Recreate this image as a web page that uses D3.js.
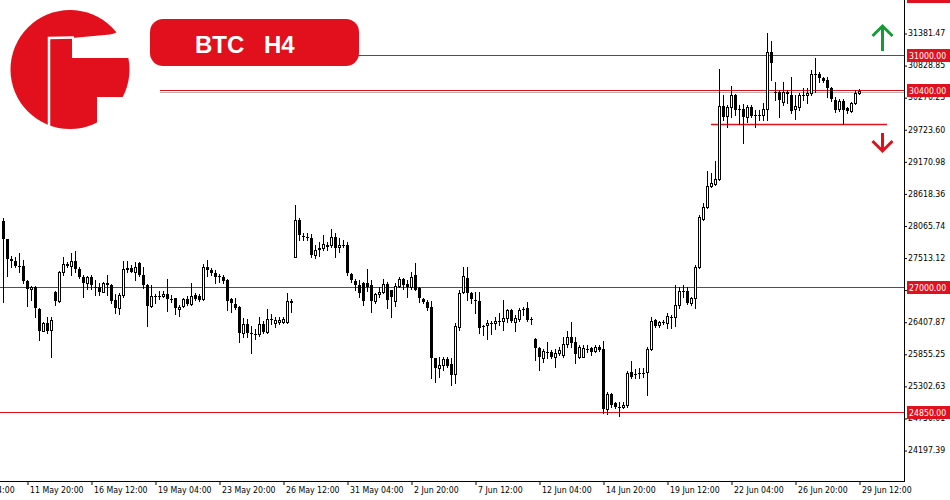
<!DOCTYPE html>
<html>
<head>
<meta charset="utf-8">
<script src="https://cdn.jsdelivr.net/npm/d3@7"></script>
<style>
  body { margin: 0; background: #fff; }
  svg { display: block; }
  .ax text { font-family: "DejaVu Sans Condensed", "DejaVu Sans", sans-serif; font-stretch: condensed; }
</style>
</head>
<body>
<div id="chart"></div>
<script>
// BTC H4 candles, 10 May 20:00 .. 29 Jun 12:00 (weekends skipped)
const opens = [
  28148,27828,27494,27454,27376,27368,27104,26966,27011,26632,
  26253,26391,26265,26920,26770,27265,27402,27368,27449,27311,
  27173,27080,27184,27006,27001,26925,27080,27041,26782,26639,
  26868,27328,27339,27270,27425,27213,27041,26679,26851,26851,
  26851,26886,26799,26812,26622,26679,26805,26708,26868,26851,
  26794,27345,27299,27252,27196,27173,27127,26794,26713,26667,
  26209,26369,26214,26202,26196,26369,26236,26450,26391,26408,
  26408,26408,26770,27528,28160,27890,27873,27845,27557,27666,
  27673,27730,27730,27862,27690,27730,27730,27230,27115,27041,
  27070,27070,27041,26770,26886,26925,27053,26955,26770,27028,
  27139,27053,27011,27213,26994,26794,26753,26656,25778,25606,
  25662,25766,25680,25502,26322,26925,27156,26898,26777,26770,
  26334,26352,26391,26381,26426,26426,26467,26610,26408,26450,
  26622,26639,26450,26105,25950,25778,25892,25892,25805,25864,
  25835,26024,26150,26064,25805,25805,25938,25950,25904,25978,
  25933,24899,25163,25003,24944,24934,24974,25547,25508,25520,
  25530,25547,25933,26438,26352,26408,26391,26495,26484,26696,
  26942,26942,26725,26812,27356,28172,28379,28751,28780,28861,
  30124,29952,30102,30313,30067,30067,29929,30102,29969,29969,
  29969,30067,31049,30370,30370,30198,30370,30313,30067,30112,
  30313,30308,30353,30675,30675,30601,30572,30429,30227,30067,
  30215,30084,30043,30181,30343
];
const closes = [
  27828,27483,27459,27368,27368,27104,26966,27001,26639,26253,
  26381,26253,26438,26770,27265,27402,27368,27449,27321,27173,
  27080,27173,27041,27001,26925,27080,27041,26770,26639,26868,
  27311,27333,27270,27356,27213,27041,26679,26851,26846,26846,
  26886,26799,26794,26639,26667,26794,26708,26851,26794,26782,
  27345,27299,27252,27184,27173,27115,26770,26725,26639,26209,
  26369,26209,26209,26196,26369,26236,26450,26443,26438,26438,
  26450,26760,26725,28160,27902,27885,27845,27557,27643,27673,
  27747,27735,27873,27673,27730,27725,27242,27127,27041,26898,
  26770,27011,26770,26886,26925,27053,26782,26829,27028,27139,
  27041,27011,27173,26955,26812,26743,26639,25778,25606,25662,
  25766,25650,25490,26334,26898,27196,26898,26794,26770,26295,
  26312,26391,26391,26426,26426,26467,26610,26426,26467,26610,
  26622,26438,26450,25950,25795,25909,25892,25805,25874,25921,
  26024,26150,26046,25847,25978,25950,25938,25892,25978,25921,
  24899,25163,24974,24944,24944,24974,25530,25451,25508,25520,
  25530,25933,26426,26334,26408,26408,26507,26495,26696,26942,
  26942,26725,26812,27345,28212,28379,28746,28792,28861,30124,
  29940,30102,30313,30055,30067,29929,30102,29952,29969,29969,
  30067,31049,30870,30343,30227,30370,30331,30043,30124,30313,
  30313,30353,30675,30675,30601,30560,30429,30240,30055,30215,
  30055,30043,30171,30353,30388
];
const highs = [
  28195,27833,27540,27518,27587,27471,27127,27023,27023,26644,
  26403,26484,26484,26937,27282,27528,27437,27587,27631,27356,
  27213,27196,27208,27127,27070,27097,27213,27050,26880,26903,
  27449,27449,27385,27442,27437,27356,27050,27041,26880,26942,
  26942,27139,26868,26817,26691,26812,26851,27070,26898,26886,
  27402,27471,27328,27299,27230,27213,27139,26812,26812,26679,
  26467,26450,26334,26277,26484,26426,26622,26541,26495,26484,
  26495,26898,26805,28419,28190,27931,27931,27919,27730,27787,
  27902,27787,28000,27942,27845,27816,27787,27242,27139,27127,
  27097,27311,27127,26908,27011,27139,27097,26960,27070,27173,
  27156,27127,27270,27414,27011,26812,26782,26770,25778,25805,
  25805,25805,25778,26381,26955,27356,27356,26925,26925,26925,
  26352,26438,26426,26495,26553,26782,26622,26622,26524,26639,
  26656,26753,26484,26122,25967,25933,26064,25921,25933,25978,
  26150,26253,26408,26150,26007,26007,26007,25978,26007,26007,
  26081,25203,25175,25030,25030,25030,25564,25737,25588,25606,
  25606,25978,26495,26450,26426,26438,26553,26524,27041,27011,
  27041,27011,26839,27385,28246,28458,29010,28965,29182,30756,
  30313,30141,30469,30331,30141,30158,30141,30141,30055,30055,
  30181,31376,31249,30543,30400,30543,30400,30618,30313,30343,
  30429,30429,30744,30946,30715,30629,30629,30457,30284,30240,
  30240,30102,30198,30400,30412
];
const lows = [
  26753,27196,27351,27345,27270,27075,26679,26782,26495,26093,
  26248,26219,25795,26696,26748,27213,27351,27213,27270,27161,
  26829,26966,26966,26868,26868,26920,26868,26730,26553,26536,
  26839,27270,27265,27127,27196,26984,26334,26670,26725,26794,
  26834,26598,26753,26536,26507,26667,26696,26696,26782,26770,
  26782,27196,27213,27080,27097,27080,26610,26581,26630,26064,
  26150,26150,25864,26105,26162,26219,26219,26369,26322,26369,
  26381,26391,26581,27520,27816,27816,27816,27528,27500,27540,
  27643,27643,27700,27528,27614,27690,27213,27097,26955,26839,
  26696,26942,26581,26736,26839,26898,26639,26484,26679,27011,
  26966,26839,26966,26950,26753,26725,26610,25433,25375,25461,
  25576,25633,25318,25358,26265,26898,26782,26725,26553,26219,
  26179,26105,26196,26277,26352,26265,26408,26408,26253,26426,
  26524,26426,26369,25749,25576,25719,25778,25778,25633,25835,
  25805,25978,25978,25692,25778,25795,25886,25835,25892,25909,
  24830,24818,24944,24917,24784,24917,24944,25433,25433,25433,
  25461,25146,25921,26322,26322,26369,26295,26295,26334,26639,
  26839,26713,26696,26639,27333,28160,28362,28734,28763,28849,
  29883,29767,29940,29969,29814,29492,29854,29929,29767,29883,
  29883,29883,30572,30227,29940,30141,30171,30009,29895,30055,
  30227,30171,30313,30370,30543,30543,30284,30215,30026,30043,
  29814,30009,30026,30158,30331
];

// time axis labels (bar index of each tick)
const xTickIndex = [-10, 6, 22, 38, 54, 70, 86, 102, 118, 134, 150, 166, 182, 198, 214];
const xTickLabels = ["9 May 04:00", "11 May 20:00", "16 May 12:00", "19 May 04:00", "23 May 20:00",
  "26 May 12:00", "31 May 04:00", "2 Jun 20:00", "7 Jun 12:00", "12 Jun 04:00", "14 Jun 20:00",
  "19 Jun 12:00", "22 Jun 04:00", "26 Jun 20:00", "29 Jun 12:00"];

// price axis
const yTicks = [24197.39, 24750.01, 25302.63, 25855.25, 26407.87, 26960.49, 27513.12,
  28065.74, 28618.36, 29170.98, 29723.60, 30276.23, 30828.85, 31381.47];

// marked levels
const levels = [31000, 30400, 27000, 24850];
const levelStart = [160, 160, 0, 0];
const rangeLow = 29810;   // short red line under the range
const rangeFrom = 177, rangeTo = 221;

const W = 950, H = 500;
const plotW = 904, plotH = 481;
const red = "#e2101c";

const svg = d3.select("#chart").append("svg")
    .attr("width", W)
    .attr("height", H);

const x = d3.scaleLinear().domain([0, 225]).range([3, 903]);
const y = d3.scaleLinear().domain([23664, 31950]).range([plotH, 0]);

const px = v => Math.round(v);

// level lines (under candles)
svg.selectAll(".level")
    .data(levels)
    .enter()
    .append("line")
    .attr("x1", (d, i) => levelStart[i])
    .attr("x2", plotW)
    .attr("y1", d => px(y(d)) + 0.5)
    .attr("y2", d => px(y(d)) + 0.5)
    .style("stroke", red)
    .style("stroke-width", 1);

// grey bid line just under 30400
svg.append("line")
    .attr("x1", 160).attr("x2", plotW)
    .attr("y1", px(y(30400)) + 2.5).attr("y2", px(y(30400)) + 2.5)
    .style("stroke", "#b4b4b4");

svg.append("line")
    .attr("x1", x(rangeFrom)).attr("x2", x(rangeTo))
    .attr("y1", px(y(rangeLow)) + 0.5).attr("y2", px(y(rangeLow)) + 0.5)
    .style("stroke", red)
    .style("stroke-width", 1.3);

// candles
const idx = d3.range(opens.length);
const candles = svg.append("g");
const up = i => closes[i] > opens[i];

candles.selectAll(".wick")
    .data(idx)
    .enter()
    .append("line")
    .attr("x1", i => px(x(i)) + 0.5)
    .attr("x2", i => px(x(i)) + 0.5)
    .attr("y1", i => px(y(highs[i])))
    .attr("y2", i => px(y(lows[i])) + 1)
    .style("stroke", "#000")
    .style("stroke-width", 1);

candles.selectAll(".body")
    .data(idx)
    .enter()
    .append("rect")
    .attr("x", i => up(i) ? px(x(i)) - 0.5 : px(x(i)) - 1)
    .attr("width", i => up(i) ? 2 : 3)
    .attr("y", i => {
        const t = px(y(Math.max(opens[i], closes[i])));
        return up(i) ? t + 0.5 : t;
    })
    .attr("height", i => {
        const t = px(y(Math.max(opens[i], closes[i])));
        const b = px(y(Math.min(opens[i], closes[i])));
        return Math.max(b - t, 1);
    })
    .style("fill", i => up(i) ? "#fff" : "#000")
    .style("stroke", i => up(i) ? "#000" : "none")
    .style("stroke-width", 1);

// axes frame
svg.append("line")
    .attr("x1", plotW + 0.5).attr("x2", plotW + 0.5)
    .attr("y1", 0).attr("y2", plotH + 1)
    .style("stroke", "#000");
svg.append("line")
    .attr("x1", 0).attr("x2", plotW + 1)
    .attr("y1", plotH + 0.5).attr("y2", plotH + 0.5)
    .style("stroke", "#000");

// price axis
const yAxis = svg.append("g")
    .attr("class", "ax")
    .attr("transform", `translate(${plotW},0)`)
    .call(d3.axisRight(y)
        .tickValues(yTicks)
        .tickSize(3)
        .tickPadding(1)
        .tickFormat(d3.format(".2f")));
yAxis.select(".domain").remove();
yAxis.selectAll("text")
    .style("font-size", "8.7px")
    .style("fill", "#000");
yAxis.selectAll(".tick line").attr("transform", "translate(0,0.5)");

// time axis
const xAxis = svg.append("g")
    .attr("class", "ax")
    .attr("transform", `translate(0,${plotH})`)
    .call(d3.axisBottom(x)
        .tickValues(xTickIndex)
        .tickSize(4)
        .tickFormat((d, i) => xTickLabels[i]));
xAxis.select(".domain").remove();
xAxis.selectAll(".tick line").attr("transform", "translate(0.5,0)");
xAxis.selectAll("text")
    .attr("text-anchor", "start")
    .attr("x", 2.5)
    .attr("y", 6)
    .style("font-size", "8.7px")
    .style("fill", "#000");

// price labels on the axis
const tags = svg.append("g").attr("class", "ax");
tags.selectAll("rect")
    .data(levels)
    .enter()
    .append("rect")
    .attr("x", plotW + 3)
    .attr("y", d => px(y(d)) - 6)
    .attr("width", 43)
    .attr("height", 13)
    .style("fill", red);
tags.selectAll("text")
    .data(levels)
    .enter()
    .append("text")
    .attr("x", plotW + 5)
    .attr("y", d => px(y(d)) + 4)
    .style("font-size", "8.7px")
    .style("fill", "#fff")
    .text(d => d3.format(".2f")(d));
// clipped tag at the very top
svg.append("rect")
    .attr("x", plotW + 3).attr("y", -10)
    .attr("width", 43).attr("height", 13)
    .style("fill", red);

// arrows
function arrow(cx, yTip, yTail, color) {
    const dir = yTip < yTail ? 1 : -1;
    const g = svg.append("g")
        .style("stroke", color)
        .style("stroke-width", 3)
        .style("fill", "none");
    g.append("line").attr("x1", cx).attr("x2", cx).attr("y1", yTip + dir).attr("y2", yTail);
    g.append("path")
        .attr("d", `M${cx - 10},${yTip + dir * 11}L${cx},${yTip + dir}L${cx + 10},${yTip + dir * 11}`);
}
arrow(882.5, 25, 51, "#169a37");
arrow(882.5, 152, 133, red);

// title badge
svg.append("rect")
    .attr("x", 150).attr("y", 19)
    .attr("width", 209).attr("height", 47)
    .attr("rx", 13)
    .style("fill", red);
svg.append("text")
    .attr("x", 195).attr("y", 53)
    .style("font-family", "'Liberation Sans', Arial, sans-serif")
    .style("font-weight", "bold")
    .style("font-size", "24px")
    .style("fill", "#fff")
    .text("BTC");
svg.append("text")
    .attr("x", 264).attr("y", 53)
    .style("font-family", "'Liberation Sans', Arial, sans-serif")
    .style("font-weight", "bold")
    .style("font-size", "24px")
    .style("fill", "#fff")
    .text("H4");

// logo: red disc split into a "C" and an "F"
const logo = svg.append("g");
logo.append("circle")
    .attr("cx", 70).attr("cy", 69.5).attr("r", 59.5)
    .style("fill", red);
logo.append("path")   // upper notch between the top arc and the cross bar
    .attr("d", "M72,38 L110,34.5 Q117,33.5 119,29 L140,20 L140,58 L72,58 Z")
    .style("fill", "#fff");
logo.append("path")   // lower notch right of the stem
    .attr("d", "M97,97 L140,97 L140,140 L97,140 Z")
    .style("fill", "#fff");
logo.append("path")   // thin cut between the ring and the stem
    .attr("d", "M49,127 L49,38 L74,37.5")
    .style("stroke", "#fff")
    .style("stroke-width", 2.5)
    .style("fill", "none");
</script>
</body>
</html>
